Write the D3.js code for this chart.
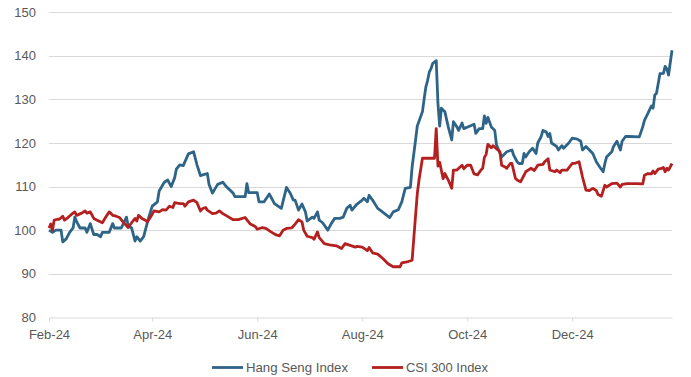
<!DOCTYPE html>
<html><head><meta charset="utf-8">
<script src="https://cdn.jsdelivr.net/npm/d3@7"></script>
<style>body{margin:0;background:#fff;} svg{display:block;font-family:"Liberation Sans",Arial,sans-serif;}</style>
</head><body><svg id="c" width="691" height="377"></svg>
<script>
const hsiDates = ["2024-02-01","2024-02-03","2024-02-05","2024-02-08","2024-02-09","2024-02-11","2024-02-13","2024-02-15","2024-02-16","2024-02-17","2024-02-19","2024-02-22","2024-02-23","2024-02-25","2024-02-27","2024-02-29","2024-03-02","2024-03-03","2024-03-07","2024-03-09","2024-03-10","2024-03-14","2024-03-17","2024-03-18","2024-03-20","2024-03-22","2024-03-23","2024-03-25","2024-03-27","2024-03-28","2024-03-30","2024-04-01","2024-04-04","2024-04-05","2024-04-08","2024-04-10","2024-04-12","2024-04-14","2024-04-15","2024-04-17","2024-04-19","2024-04-22","2024-04-25","2024-04-27","2024-04-29","2024-05-03","2024-05-04","2024-05-06","2024-05-09","2024-05-12","2024-05-14","2024-05-18","2024-05-19","2024-05-25","2024-05-26","2024-05-27","2024-06-01","2024-06-02","2024-06-05","2024-06-08","2024-06-11","2024-06-15","2024-06-18","2024-06-20","2024-06-22","2024-06-23","2024-06-25","2024-06-27","2024-06-29","2024-06-30","2024-07-03","2024-07-04","2024-07-06","2024-07-07","2024-07-09","2024-07-12","2024-07-14","2024-07-16","2024-07-19","2024-07-21","2024-07-23","2024-07-25","2024-07-26","2024-07-29","2024-08-01","2024-08-02","2024-08-04","2024-08-05","2024-08-07","2024-08-10","2024-08-12","2024-08-14","2024-08-17","2024-08-19","2024-08-22","2024-08-24","2024-08-26","2024-08-29","2024-08-30","2024-09-01","2024-09-02","2024-09-05","2024-09-06","2024-09-07","2024-09-08","2024-09-09","2024-09-10","2024-09-11","2024-09-13","2024-09-14","2024-09-15","2024-09-16","2024-09-18","2024-09-20","2024-09-22","2024-09-23","2024-09-25","2024-09-26","2024-09-28","2024-09-29","2024-10-02","2024-10-05","2024-10-06","2024-10-08","2024-10-10","2024-10-11","2024-10-12","2024-10-13","2024-10-15","2024-10-17","2024-10-18","2024-10-21","2024-10-24","2024-10-27","2024-10-28","2024-10-30","2024-10-31","2024-11-02","2024-11-03","2024-11-04","2024-11-06","2024-11-08","2024-11-10","2024-11-11","2024-11-13","2024-11-14","2024-11-16","2024-11-17","2024-11-18","2024-11-19","2024-11-22","2024-11-23","2024-11-25","2024-11-26","2024-11-29","2024-12-01","2024-12-04","2024-12-06","2024-12-07","2024-12-09","2024-12-11","2024-12-13","2024-12-15","2024-12-17","2024-12-19","2024-12-20","2024-12-21","2024-12-24","2024-12-25","2024-12-27","2024-12-29","2024-12-30","2025-01-01","2025-01-03","2025-01-09","2025-01-11","2025-01-12","2025-01-14","2025-01-16","2025-01-17","2025-01-18","2025-01-19","2025-01-21","2025-01-23","2025-01-24","2025-01-25","2025-01-26","2025-01-28"];
const hsiValues = [100,99.5,100,100,97.3,98,99.5,100.5,103,102,100.5,100.5,99.5,101.5,99,99,98.5,99.5,99.5,101.5,100.5,100.5,103,101,100.5,97.5,98.5,97.5,98.5,100,103,105.5,106.5,109,111,111.5,110,112,114,115,114.8,117.5,118,115,112.5,113,110.5,108.5,110.5,111,110,108.5,107.7,107.7,110.7,108.6,108.6,106.5,106.5,108.3,106.1,105,109.8,108.6,106.9,106.9,104.6,106,104.2,102.1,103,102.7,104.2,102.3,101.7,100,101.5,102.7,102.7,103,105,105.7,104.6,106,106.9,107.3,106.5,108,106.9,105,104.4,103.8,102.9,104.2,104.7,106.5,109.6,109.8,114.5,120.7,123.9,127.2,130.2,132.9,134.4,136.3,137.1,138.3,138.9,129.1,123.9,128,127.2,123.7,120.7,124.9,123.7,122.9,124.6,123.3,123.8,124.3,122.2,123.3,123.3,126.2,124.5,125.9,123.7,122.9,119.6,116.8,118,118.4,117.2,115.7,115.3,115.3,117.6,116.8,118,118.8,117.6,120,121.5,122.9,122.5,121.5,122.2,120,119.2,118.4,119.4,118.8,120,121.1,120.9,120.4,118.4,119.2,118.4,117.6,115.7,114.5,113.4,115.3,116.8,118,119.2,120.4,118.4,120.4,121.5,121.5,121.4,123.7,125.2,126.8,128.5,128,131,131.4,135.9,136,137.6,137,135.6,141.3];

const csiDates = ["2024-02-01","2024-02-02","2024-02-03","2024-02-04","2024-02-06","2024-02-07","2024-02-09","2024-02-10","2024-02-12","2024-02-14","2024-02-16","2024-02-17","2024-02-20","2024-02-22","2024-02-23","2024-02-25","2024-02-27","2024-02-29","2024-03-03","2024-03-05","2024-03-07","2024-03-09","2024-03-11","2024-03-13","2024-03-15","2024-03-18","2024-03-20","2024-03-22","2024-03-23","2024-03-24","2024-03-26","2024-03-28","2024-03-29","2024-03-31","2024-04-02","2024-04-05","2024-04-07","2024-04-09","2024-04-11","2024-04-13","2024-04-14","2024-04-17","2024-04-19","2024-04-20","2024-04-22","2024-04-25","2024-04-27","2024-04-29","2024-04-30","2024-05-02","2024-05-03","2024-05-06","2024-05-08","2024-05-10","2024-05-12","2024-05-15","2024-05-18","2024-05-21","2024-05-25","2024-05-28","2024-05-31","2024-06-01","2024-06-04","2024-06-06","2024-06-09","2024-06-12","2024-06-14","2024-06-16","2024-06-18","2024-06-21","2024-06-23","2024-06-25","2024-06-27","2024-06-28","2024-06-30","2024-07-03","2024-07-04","2024-07-06","2024-07-07","2024-07-10","2024-07-13","2024-07-17","2024-07-20","2024-07-22","2024-07-25","2024-07-28","2024-07-29","2024-08-01","2024-08-04","2024-08-05","2024-08-07","2024-08-10","2024-08-13","2024-08-16","2024-08-19","2024-08-23","2024-08-24","2024-08-27","2024-08-30","2024-08-31","2024-09-02","2024-09-03","2024-09-05","2024-09-12","2024-09-13","2024-09-14","2024-09-15","2024-09-17","2024-09-18","2024-09-20","2024-09-22","2024-09-23","2024-09-25","2024-09-28","2024-09-29","2024-10-01","2024-10-03","2024-10-05","2024-10-07","2024-10-09","2024-10-10","2024-10-11","2024-10-12","2024-10-13","2024-10-15","2024-10-16","2024-10-18","2024-10-20","2024-10-21","2024-10-23","2024-10-24","2024-10-26","2024-10-27","2024-10-29","2024-10-30","2024-11-01","2024-11-03","2024-11-04","2024-11-07","2024-11-09","2024-11-11","2024-11-14","2024-11-15","2024-11-17","2024-11-18","2024-11-21","2024-11-22","2024-11-24","2024-11-25","2024-11-28","2024-12-01","2024-12-03","2024-12-05","2024-12-07","2024-12-09","2024-12-11","2024-12-13","2024-12-15","2024-12-16","2024-12-18","2024-12-20","2024-12-21","2024-12-24","2024-12-27","2024-12-29","2024-12-30","2025-01-02","2025-01-07","2025-01-11","2025-01-12","2025-01-14","2025-01-16","2025-01-17","2025-01-18","2025-01-20","2025-01-22","2025-01-23","2025-01-24","2025-01-25","2025-01-26","2025-01-28"];
const csiValues = [100.5,101.4,100,102.3,102.5,102.5,103.2,102.3,102.9,103.6,104.2,103.4,103.9,104.4,103.9,104.2,102.7,102.3,101.7,103,104.2,103.4,103.2,102.9,101.9,100.6,101.7,102.7,102.1,103.4,102.7,102.3,101.9,103,104.4,104.2,104.7,104.6,105.5,105.2,106.3,106.1,106.1,105.5,106.5,106.9,106.3,104.4,104.9,105.2,104.6,103.8,103.9,104.4,103.8,103.1,102.4,102.4,102.9,101.4,100.8,100.2,100.6,100.4,99.6,98.9,98.7,100,100.4,100.5,101.4,102.4,101.9,100,98.6,98.3,97.9,99.6,98.3,96.9,96.6,96.4,95.8,96.9,96.5,96.1,96.3,96.1,95.3,96,94.8,94.5,93.5,92.3,91.6,91.6,92.5,92.7,93.1,98.3,108.4,111.5,116.5,116.5,123.3,114.7,115.6,111.8,113,111.5,109.6,113.8,113.8,114.9,114.1,114.9,114.9,112.9,112.7,113.8,114.2,116.7,117.4,119.7,118.9,119.4,118.7,118,114.9,114.5,114.2,115.3,115.3,111.9,111.5,111.1,112.6,113.4,114.2,113.7,114.9,115.1,115.7,116.4,113.8,113.4,113.8,113.2,113.8,113.8,115.3,115.4,115.7,112.2,109.2,109.1,109.6,109.1,108.2,107.8,110.3,109.9,110.7,110.8,109.9,110.5,110.7,110.7,110.6,112.6,113,112.9,113.6,113,114,114.2,114.4,113.4,114.2,113.8,115.3];

const yTicks = [80, 90, 100, 110, 120, 130, 140, 150];
const xTickLabels = ["Feb-24", "Apr-24", "Jun-24", "Aug-24", "Oct-24", "Dec-24"];
const xTickDates = ["2024-02-01", "2024-04-01", "2024-06-01", "2024-08-01", "2024-10-01", "2024-12-01"];
const seriesNames = ["Hang Seng Index", "CSI 300 Index"];
const seriesColors = ["#2d6487", "#b3201f"];

const parse = d3.timeParse("%Y-%m-%d");
const series = [
  {name: seriesNames[0], color: seriesColors[0], pts: hsiDates.map((d, i) => [parse(d), hsiValues[i]])},
  {name: seriesNames[1], color: seriesColors[1], pts: csiDates.map((d, i) => [parse(d), csiValues[i]])}
];

const svg = d3.select("#c");
const x = d3.scaleTime().domain([parse("2024-02-01"), parse("2025-01-28")]).range([49, 672]);
const y = d3.scaleLinear().domain([80, 150]).range([317.3, 12.3]);
const textColor = "#595959";

// gridlines
svg.append("g").selectAll("line").data(yTicks.filter(t => t !== 80)).join("line")
  .attr("x1", 49).attr("x2", 672)
  .attr("y1", d => Math.round(y(d)) + 0.5).attr("y2", d => Math.round(y(d)) + 0.5)
  .attr("stroke", "#d9d9d9").attr("stroke-width", 1);

// y labels
svg.append("g").selectAll("text").data(yTicks).join("text")
  .attr("x", 36).attr("y", d => y(d)).attr("dy", "0.35em")
  .attr("text-anchor", "end").attr("fill", textColor).attr("font-size", 13)
  .text(d => d);

// x axis
const xAxis = d3.axisBottom(x)
  .tickValues(xTickDates.map(parse))
  .tickFormat((d, i) => xTickLabels[i])
  .tickSize(4).tickSizeOuter(0).tickPadding(8);
const gx = svg.append("g").attr("transform", `translate(0,${Math.round(y(80)) + 0.5})`).call(xAxis);
gx.select(".domain").attr("stroke", "#d9d9d9");
gx.selectAll(".tick line").attr("stroke", "#d9d9d9");
gx.selectAll(".tick text").attr("fill", textColor).attr("font-size", 13)
  .attr("font-family", '"Liberation Sans", Arial, sans-serif');

// lines
const line = d3.line().x(d => x(d[0])).y(d => y(d[1]));
svg.append("g").selectAll("path").data(series).join("path")
  .attr("d", d => line(d.pts)).attr("fill", "none")
  .attr("stroke", d => d.color).attr("stroke-width", 2.8)
  .attr("stroke-linejoin", "round");

// legend
const legend = [{x: 212, tx: 246, w: 102}, {x: 372, tx: 406, w: 82}];
const lg = svg.append("g").selectAll("g").data(series).join("g");
lg.append("line")
  .attr("x1", (d, i) => legend[i].x).attr("x2", (d, i) => legend[i].x + 31)
  .attr("y1", 367.5).attr("y2", 367.5)
  .attr("stroke", d => d.color).attr("stroke-width", 2.8);
lg.append("text")
  .attr("x", (d, i) => legend[i].tx).attr("y", 367.5).attr("dy", "0.35em")
  .attr("textLength", (d, i) => legend[i].w).attr("lengthAdjust", "spacingAndGlyphs")
  .attr("fill", textColor).attr("font-size", 13).text(d => d.name);
</script></body></html>
